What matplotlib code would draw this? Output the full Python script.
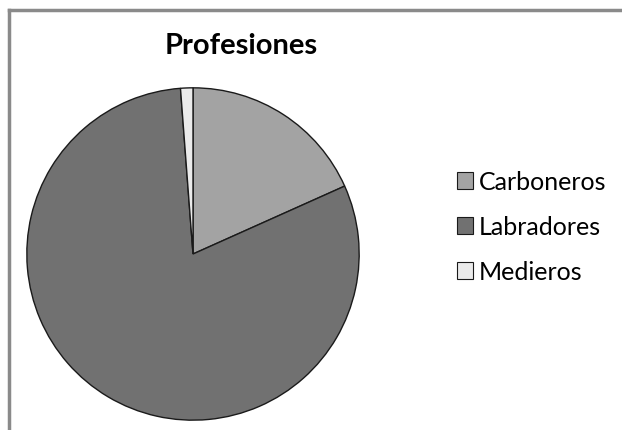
import matplotlib
matplotlib.use("Agg")
import matplotlib.pyplot as plt
from matplotlib.lines import Line2D

categories = ["Carboneros", "Labradores", "Medieros"]
values = [18.3, 80.5, 1.2]
colors = ["#a3a3a3", "#717171", "#ebebeb"]
title = "Profesiones"

W, H = 622, 431
fig = plt.figure(figsize=(W / 100, H / 100), dpi=100)
fig.patch.set_facecolor("white")

# frame (left and top borders visible)
fig.add_artist(Line2D([9 / W, 9 / W], [0, 1 - 11 / H], transform=fig.transFigure,
                      color="#8a8a8a", lw=2.5))
fig.add_artist(Line2D([9 / W, 1], [1 - 11 / H, 1 - 11 / H], transform=fig.transFigure,
                      color="#8a8a8a", lw=2.5))

cx, cy, r = 193, 255, 167
ax = fig.add_axes([(cx - r) / W, (H - cy - r) / H, 2 * r / W, 2 * r / H])
wedges, _ = ax.pie(values, colors=colors, startangle=90, counterclock=False,
                   radius=1, wedgeprops=dict(edgecolor="#1a1a1a", linewidth=1.0))
ax.set_xlim(-1.005, 1.005)
ax.set_ylim(-1.005, 1.005)
ax.set_aspect("equal")
ax.axis("off")

fig.text(241 / W, 1 - 46 / H, title, ha="center", va="center",
         fontsize=21, fontweight="bold", family="Lato")

leg = fig.legend(wedges, categories, loc="center left",
                 bbox_to_anchor=(434 / W, 1 - 228 / H), frameon=False,
                 handlelength=0.65, handleheight=0.65, handletextpad=0.25,
                 labelspacing=0.88, prop=dict(family="Lato", size=18))
for h in leg.legend_handles:
    h.set_linewidth(0.8)

fig.savefig("out.png", dpi=100)
